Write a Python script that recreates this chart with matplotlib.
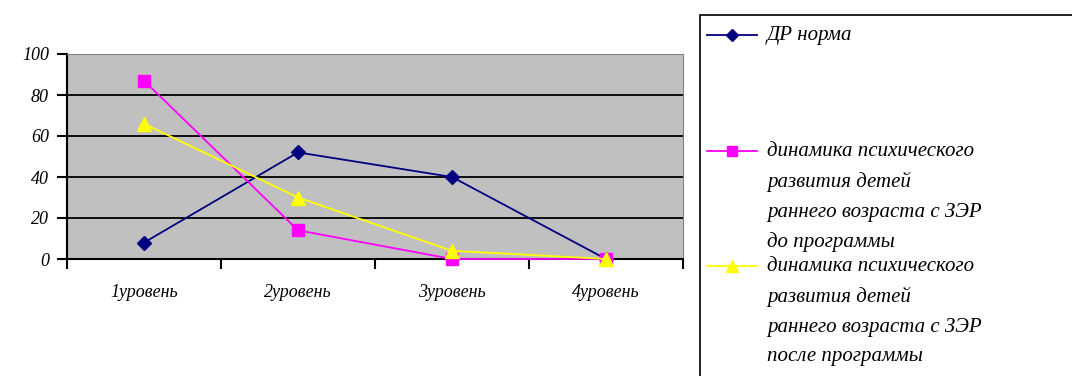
import matplotlib
matplotlib.use("Agg")
import matplotlib.pyplot as plt
from matplotlib.lines import Line2D
from matplotlib.patches import Rectangle

categories = ["1уровень", "2уровень", "3уровень", "4уровень"]
norma = [8, 52, 40, 0]
before = [87, 14, 0, 0]
after = [66, 30, 4, 0]
series_labels = [
    "ДР норма",
    "динамика психического\nразвития детей\nраннего возраста с ЗЭР\nдо программы",
    "динамика психического\nразвития детей\nраннего возраста с ЗЭР\nпосле программы",
]
yticks = [0, 20, 40, 60, 80, 100]

plt.rcParams['font.family'] = ['Liberation Serif', 'DejaVu Serif']

fig = plt.figure(figsize=(10.72, 3.76), dpi=100)
ax = fig.add_axes([67/1072, 1-259/376, (683-67)/1072, (259-54)/376])
ax.set_facecolor("#C0C0C0")

x = [0.5 + i for i in range(len(categories))]
styles = [
    dict(color="#000080", marker="D", ms=7, mfc="#000080"),
    dict(color="#FF00FF", marker="s", ms=8, mfc="#FF00FF"),
    dict(color="#FFFF00", marker="^", ms=10, mfc="#FFFF00"),
]
for vals, st in zip([norma, before, after], styles):
    ax.plot(x, vals, lw=1.3, clip_on=False, zorder=3, **st)

ax.set_xlim(0, len(categories))
ax.set_ylim(0, 100)
ax.set_yticks(yticks)
ax.set_yticklabels([str(v) for v in yticks], fontstyle='italic', fontsize=13)
ax.set_xticks([i for i in range(len(categories) + 1)])
ax.set_xticklabels([])
ax.set_xticks(x, minor=True)
ax.set_xticklabels(categories, minor=True, fontstyle='italic', fontsize=13)
ax.tick_params(axis='x', which='minor', length=0, pad=18)
ax.tick_params(axis='x', which='major', length=7, width=1.5, direction='out')
ax.tick_params(axis='y', length=7, width=1.5, direction='out', pad=6)
ax.yaxis.grid(True, color="black", lw=1.3)
ax.set_axisbelow(True)
ax.spines['left'].set_linewidth(1.5)
ax.spines['bottom'].set_linewidth(1.5)
ax.spines['top'].set_color("#808080")
ax.spines['right'].set_color("#808080")

# legend box
W, H = 1072, 376
fig.patches.append(Rectangle((700/W, -0.01), 400/W, 1 - 15/H + 0.01, transform=fig.transFigure,
                             fill=False, edgecolor="black", lw=1.2))
entry_y = [35, 151, 266]
for lab, st, yy in zip(series_labels, styles, entry_y):
    yf = 1 - yy/H
    fig.lines.append(Line2D([707/W, 757/W], [yf, yf], transform=fig.transFigure,
                            color=st['color'], lw=1.3))
    fig.lines.append(Line2D([732/W], [yf], transform=fig.transFigure, color=st['color'],
                            marker=st['marker'], ms=st['ms'] - 1, mfc=st['mfc'], ls='none'))
    fig.text(767/W, yf + 9/H, lab, va='top', ha='left', fontstyle='italic', fontsize=15,
             linespacing=1.72)

fig.savefig("out.png", dpi=100)
